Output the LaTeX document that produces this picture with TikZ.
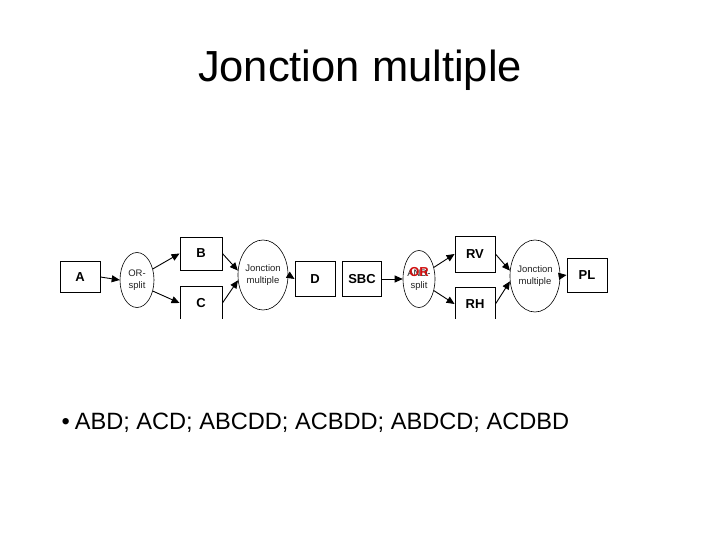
\documentclass[tikz,border=0pt]{standalone}
\usepackage{fontspec}
\setmainfont{Liberation Sans}
\usepackage{tikz}
\usetikzlibrary{arrows.meta,positioning,shapes.geometric}
\definecolor{cLine}{HTML}{000000}
\definecolor{cOvl} {HTML}{D01010}
\definecolor{cTxt} {HTML}{222222}
\tikzset{
  box/.style  ={draw=cLine,line width=0.9pt,fill=white,inner sep=0pt,
                minimum width=40pt,minimum height=34pt,
                font=\fontsize{13}{15}\selectfont\bfseries},
  oval/.style ={ellipse,draw=cLine,line width=0.6pt,fill=white,inner sep=0pt,
                align=center,text=cTxt,font=\fontsize{9.5}{12}\selectfont},
  flow/.style ={-{Triangle[length=8pt,width=7pt]},draw=cLine,line width=0.9pt},
}

\begin{document}
\begin{tikzpicture}[x=1pt, y=-1pt]
\useasboundingbox (0,0) rectangle (720,540);

\node[font=\fontsize{43.5}{48}\selectfont] (title) at (360,70) {Jonction multiple};

% --- the flow diagram, cut at top and bottom like the pasted picture ------
\begin{scope}
\clip (0,236) rectangle (720,318.5);

\node[box,minimum height=31pt] (A)   at (80,277)  {A};
\node[oval,minimum width=34pt,minimum height=55pt] (or) at (137,280) {OR-\\split};
\node[box,minimum width=42pt,minimum height=33pt] (B)   at (201,253.5) {B};
\node[box,minimum width=42pt] (C)   at (201,303)  {C};
\node[oval,minimum width=40pt,minimum height=70pt] (jm1) at (263,275) {Jonction\\multiple};
\node[box,minimum height=35pt] (D)   at (315,279)  {D};
\node[box,minimum width=39pt,minimum height=35pt] (sbc) at (362,279) {SBC};
\node[oval,minimum width=32pt,minimum height=57pt] (as) at (419,279)
  {\makebox[0pt]{AND-}\makebox[0pt]{\fontsize{13}{13}\selectfont\bfseries\color{cOvl}OR}\\split};
\node[box,minimum height=36pt] (rv)  at (475,254)  {RV};
\node[box] (rh)  at (475,304)  {RH};
\node[oval,minimum width=40pt,minimum height=72pt] (jm2) at (535,276) {Jonction\\multiple};
\node[box] (pl)  at (587,275)  {PL};

\draw[flow] (A.east)  -- (or.west);
\draw[flow] (or.35)   -- (B.west);
\draw[flow] (or.-35)  -- (C.west);
\draw[flow] (B.east)  -- (jm1.170);
\draw[flow] (C.east)  -- (jm1.192);
\draw[flow] (jm1.east) -- (D.west);
\draw[flow] (sbc.east) -- (as.west);
\draw[flow] (as.38)   -- (rv.west);
\draw[flow] (as.-38)  -- (rh.west);
\draw[flow] (rv.east) -- (jm2.168);
\draw[flow] (rh.east) -- (jm2.192);
\draw[flow] (jm2.east) -- (pl.west);
\end{scope}

% --- list of paths ---------------------------------------------------------
\node[anchor=west,font=\fontsize{23.6}{28}\selectfont] (paths) at (58,423)
  {•\hspace{5pt}ABD; ACD; ABCDD; ACBDD; ABDCD; ACDBD};

\end{tikzpicture}
\end{document}
